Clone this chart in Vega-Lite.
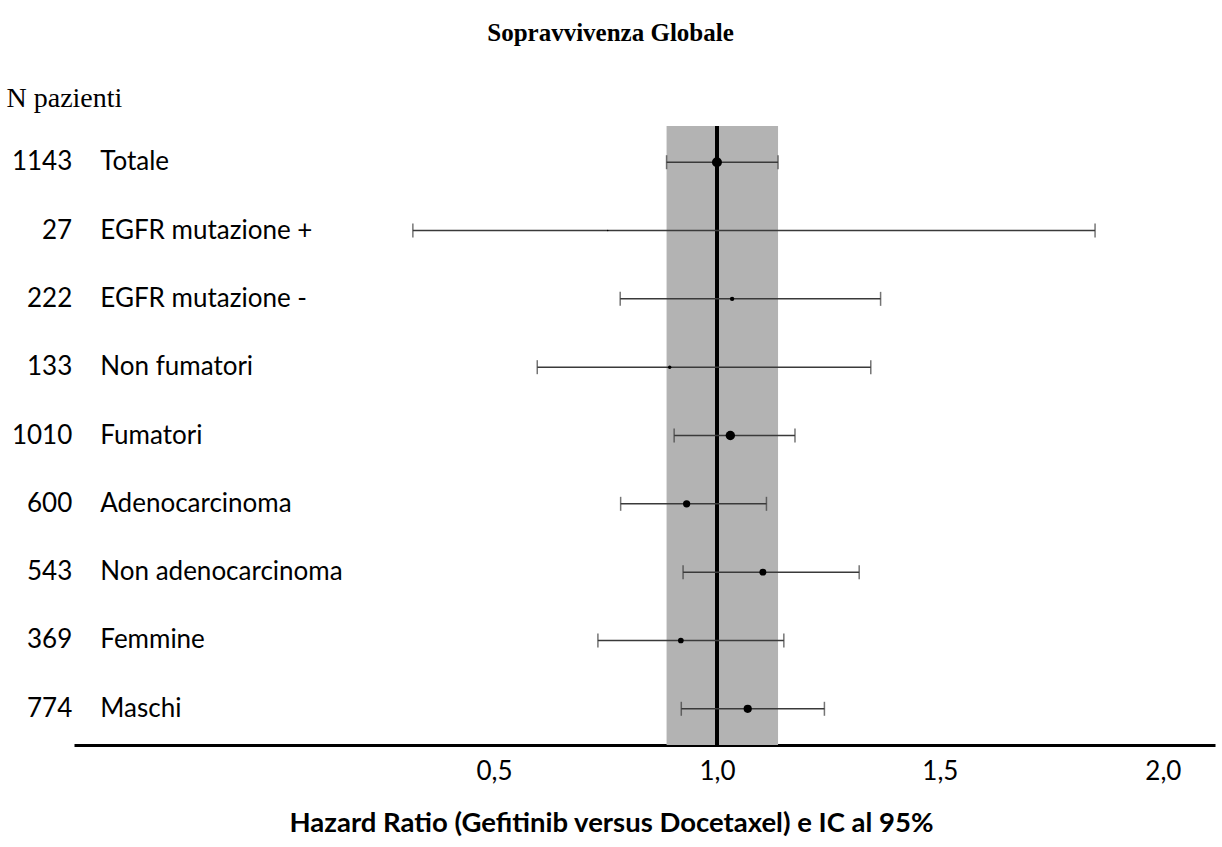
{
  "$schema": "https://vega.github.io/schema/vega-lite/v6.json",
  "autosize": {"type": "none"},
  "width": 1141,
  "height": 619,
  "padding": {"left": 74, "top": 126, "right": 7, "bottom": 102},
  "background": "white",
  "title": {"text": "Sopravvivenza Globale", "font": "Liberation Serif", "fontSize": 25, "fontWeight": "bold", "color": "black", "anchor": "middle", "frame": "group", "dx": -34, "offset": 38},
  "config": {
    "view": {"stroke": null},
    "axis": {"grid": false}
  },
  "data": {"values": [
    {"gruppo": "Totale", "N": 1143, "hr": 1.0, "lo": 0.887, "hi": 1.137},
    {"gruppo": "EGFR mutazione +", "N": 27, "hr": 0.755, "lo": 0.318, "hi": 1.848},
    {"gruppo": "EGFR mutazione -", "N": 222, "hr": 1.034, "lo": 0.783, "hi": 1.367},
    {"gruppo": "Non fumatori", "N": 133, "hr": 0.894, "lo": 0.597, "hi": 1.345},
    {"gruppo": "Fumatori", "N": 1010, "hr": 1.03, "lo": 0.904, "hi": 1.175},
    {"gruppo": "Adenocarcinoma", "N": 600, "hr": 0.932, "lo": 0.784, "hi": 1.111},
    {"gruppo": "Non adenocarcinoma", "N": 543, "hr": 1.103, "lo": 0.924, "hi": 1.319},
    {"gruppo": "Femmine", "N": 369, "hr": 0.919, "lo": 0.733, "hi": 1.15},
    {"gruppo": "Maschi", "N": 774, "hr": 1.069, "lo": 0.92, "hi": 1.241}
  ]},
  "layer": [
    {
      "transform": [{"filter": "datum.gruppo === 'Totale'"}],
      "mark": {"type": "rect", "color": "#b3b3b3"},
      "encoding": {
        "x": {"field": "lo", "type": "quantitative", "scale": {"domain": [-0.442, 2.117], "nice": false, "zero": false},
          "axis": {"title": "Hazard Ratio (Gefitinib versus Docetaxel) e IC al 95%", "values": [0.5, 1, 1.5, 2],
            "labelExpr": "replace(format(datum.value, '.1f'), '.', ',')",
            "ticks": false, "domainColor": "black", "domainWidth": 3,
            "labelFont": "Lato", "labelFontSize": 26, "labelColor": "black", "labelPadding": 13,
            "titleFont": "Lato", "titleFontSize": 27.5, "titleFontWeight": "bold", "titleColor": "black",
            "titleX": 537, "titleY": 86, "titleBaseline": "alphabetic", "titleAlign": "center"}},
        "x2": {"field": "hi"}
      }
    },
    {
      "mark": {"type": "rule", "color": "black", "strokeWidth": 3},
      "encoding": {"x": {"datum": 1}}
    },
    {
      "mark": {"type": "rule", "color": "#3a3a3a", "strokeWidth": 1.5},
      "encoding": {
        "y": {"field": "gruppo", "type": "nominal", "sort": null, "scale": {"type": "point", "padding": 0.53},
          "axis": {"title": "N pazienti", "labels": false, "ticks": false, "domain": false,
            "titleAngle": 0, "titleAlign": "left", "titleBaseline": "alphabetic", "titleX": -68, "titleY": -20,
            "titleFont": "Liberation Serif", "titleFontSize": 28, "titleFontWeight": "normal", "titleColor": "black"}},
        "x": {"field": "lo", "type": "quantitative"},
        "x2": {"field": "hi"}
      }
    },
    {
      "mark": {"type": "tick", "color": "#3a3a3a", "thickness": 1.5, "size": 14},
      "encoding": {
        "y": {"field": "gruppo", "type": "nominal", "sort": null},
        "x": {"field": "lo", "type": "quantitative"}
      }
    },
    {
      "mark": {"type": "tick", "color": "#3a3a3a", "thickness": 1.5, "size": 14},
      "encoding": {
        "y": {"field": "gruppo", "type": "nominal", "sort": null},
        "x": {"field": "hi", "type": "quantitative"}
      }
    },
    {
      "mark": {"type": "circle", "color": "black", "opacity": 1},
      "encoding": {
        "y": {"field": "gruppo", "type": "nominal", "sort": null},
        "x": {"field": "hr", "type": "quantitative"},
        "size": {"field": "N", "type": "quantitative", "scale": {"domain": [0, 1143], "range": [0, 100]}, "legend": null}
      }
    },
    {
      "mark": {"type": "text", "align": "right", "baseline": "middle", "font": "Lato", "fontSize": 26, "color": "black"},
      "encoding": {
        "y": {"field": "gruppo", "type": "nominal", "sort": null},
        "x": {"datum": -0.446},
        "text": {"field": "N", "type": "quantitative"}
      }
    },
    {
      "mark": {"type": "text", "align": "left", "baseline": "middle", "font": "Lato", "fontSize": 26, "color": "black"},
      "encoding": {
        "y": {"field": "gruppo", "type": "nominal", "sort": null},
        "x": {"datum": -0.383},
        "text": {"field": "gruppo", "type": "nominal"}
      }
    }
  ]
}
